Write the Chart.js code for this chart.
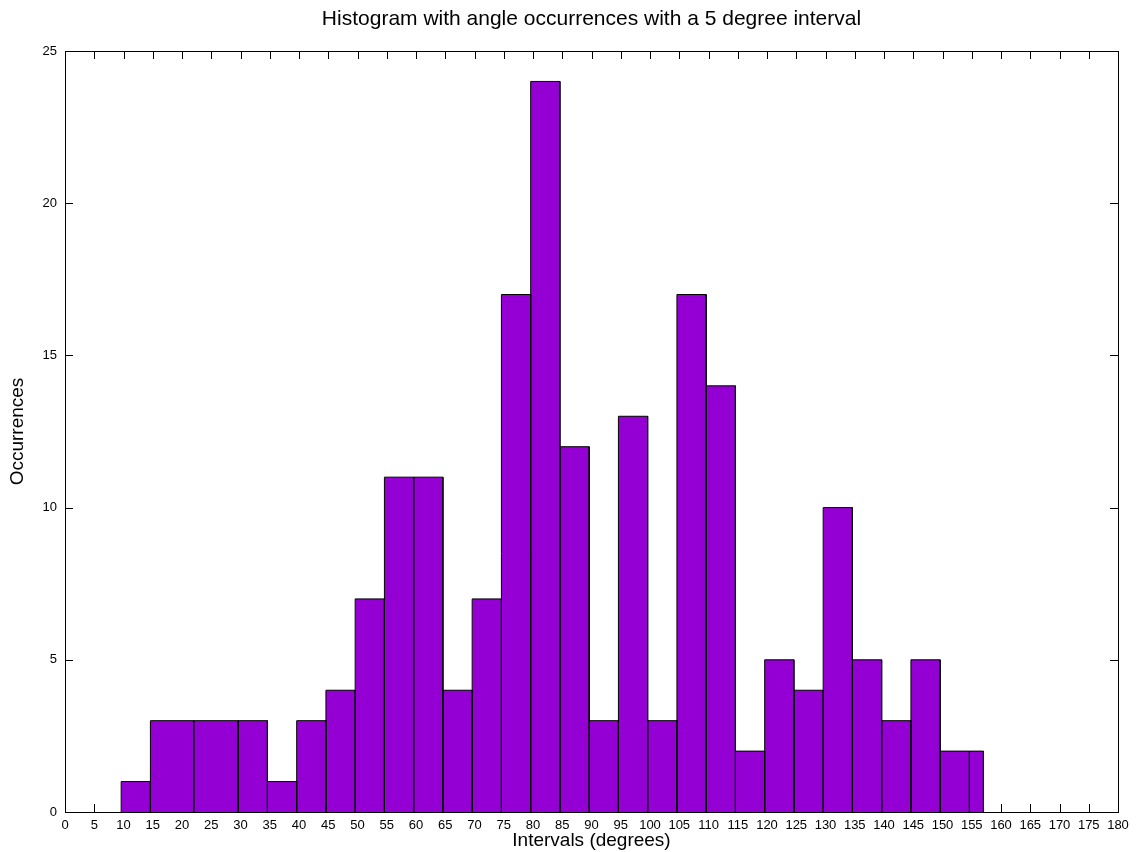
<!DOCTYPE html>
<html>
<head>
<meta charset="utf-8">
<title>Histogram with angle occurrences</title>
<script src="https://cdn.jsdelivr.net/npm/chart.js@4"></script>
<style>
  body { margin: 0; background: #fff; }
  canvas { display: block; }
</style>
</head>
<body>
<canvas id="histChart" width="1139" height="852"></canvas>
<script>
// bin edges in degrees, one more than the counts
const binEdges = [9.6, 14.6, 22.0, 29.6, 34.6, 39.6, 44.6, 49.6, 54.6, 59.6,
    64.6, 69.6, 74.6, 79.6, 84.6, 89.6, 94.6, 99.6, 104.6, 109.6,
    114.6, 119.6, 124.6, 129.6, 134.6, 139.6, 144.6, 149.6, 154.6, 157.0];
const occurrences = [1, 3, 3, 3, 1, 3, 4, 7, 11, 11,
    4, 7, 17, 24, 12, 3, 13, 3, 17, 14,
    2, 5, 4, 10, 5, 3, 5, 2, 2];

const xTicks = [0, 5, 10, 15, 20, 25, 30, 35, 40, 45, 50, 55, 60, 65, 70, 75, 80, 85, 90,
    95, 100, 105, 110, 115, 120, 125, 130, 135, 140, 145, 150, 155, 160, 165, 170, 175, 180];
const yTicks = [0, 5, 10, 15, 20, 25];

const chartTitle = 'Histogram with angle occurrences with a 5 degree interval';
const xTitle = 'Intervals (degrees)';
const yTitle = 'Occurrences';

const FONT = "'Liberation Sans', Arial, sans-serif";

// one closed box per bin, so every bar gets its own black outline
const datasets = occurrences.map((count, i) => ({
    data: [
        { x: binEdges[i], y: 0 },
        { x: binEdges[i], y: count },
        { x: binEdges[i + 1], y: count },
        { x: binEdges[i + 1], y: 0 }
    ],
    fill: 'origin',
    backgroundColor: '#9400d3',
    borderColor: '#000',
    borderWidth: 1,
    pointRadius: 0,
    tension: 0
}));

// gnuplot style: inward ticks mirrored on all four sides, plus the frame
const framePlugin = {
    id: 'frame',
    beforeDatasetsDraw(chart) {
        const { ctx, chartArea: a, scales } = chart;
        const len = 8;
        ctx.save();
        ctx.strokeStyle = '#000';
        ctx.lineWidth = 1;
        ctx.beginPath();
        xTicks.forEach(v => {
            const px = Math.round(scales.x.getPixelForValue(v)) + 0.5;
            ctx.moveTo(px, a.bottom);
            ctx.lineTo(px, a.bottom - len);
            ctx.moveTo(px, a.top);
            ctx.lineTo(px, a.top + len);
        });
        yTicks.forEach(v => {
            const py = Math.round(scales.y.getPixelForValue(v)) + 0.5;
            ctx.moveTo(a.left, py);
            ctx.lineTo(a.left + len, py);
            ctx.moveTo(a.right, py);
            ctx.lineTo(a.right - len, py);
        });
        ctx.stroke();
        ctx.restore();
    },
    afterDatasetsDraw(chart) {
        const { ctx, chartArea: a } = chart;
        ctx.save();
        ctx.strokeStyle = '#000';
        ctx.lineWidth = 1;
        ctx.strokeRect(Math.round(a.left) + 0.5, Math.round(a.top) + 0.5,
            Math.round(a.right - a.left), Math.round(a.bottom - a.top));
        ctx.restore();
    }
};

const ctx = document.getElementById('histChart');
new Chart(ctx.getContext('2d'), {
    type: 'line',
    data: { datasets },
    options: {
        responsive: false,
        devicePixelRatio: 1,
        animation: false,
        layout: { padding: { left: 0, right: 21, top: 0, bottom: 0 } },
        plugins: {
            legend: { display: false },
            tooltip: { enabled: false },
            title: {
                display: true,
                text: chartTitle,
                fullSize: false,
                color: '#000',
                font: { family: FONT, size: 21, weight: 'normal', lineHeight: 1.2 },
                padding: { top: 6.4, bottom: 19.4 }
            }
        },
        scales: {
            x: {
                type: 'linear',
                min: 0,
                max: 180,
                afterFit: s => { s.height = 40; },
                afterBuildTicks: s => { s.ticks = xTicks.map(v => ({ value: v })); },
                grid: { display: false, drawTicks: false },
                border: { display: false },
                ticks: {
                    color: '#000',
                    padding: 6,
                    maxRotation: 0,
                    autoSkip: false,
                    font: { family: FONT, size: 13 }
                },
                title: {
                    display: true,
                    text: xTitle,
                    color: '#000',
                    font: { family: FONT, size: 19, lineHeight: 1.2 },
                    padding: { top: 0, bottom: 0 }
                }
            },
            y: {
                min: 0,
                max: 25,
                afterFit: s => { s.width = 65; },
                afterBuildTicks: s => { s.ticks = yTicks.map(v => ({ value: v })); },
                grid: { display: false, drawTicks: false },
                border: { display: false },
                ticks: {
                    color: '#000',
                    padding: 8,
                    font: { family: FONT, size: 13 }
                },
                title: {
                    display: true,
                    text: yTitle,
                    color: '#000',
                    font: { family: FONT, size: 19, lineHeight: 1.2 },
                    padding: { top: 6.6, bottom: 0 }
                }
            }
        }
    },
    plugins: [framePlugin]
});
</script>
</body>
</html>
